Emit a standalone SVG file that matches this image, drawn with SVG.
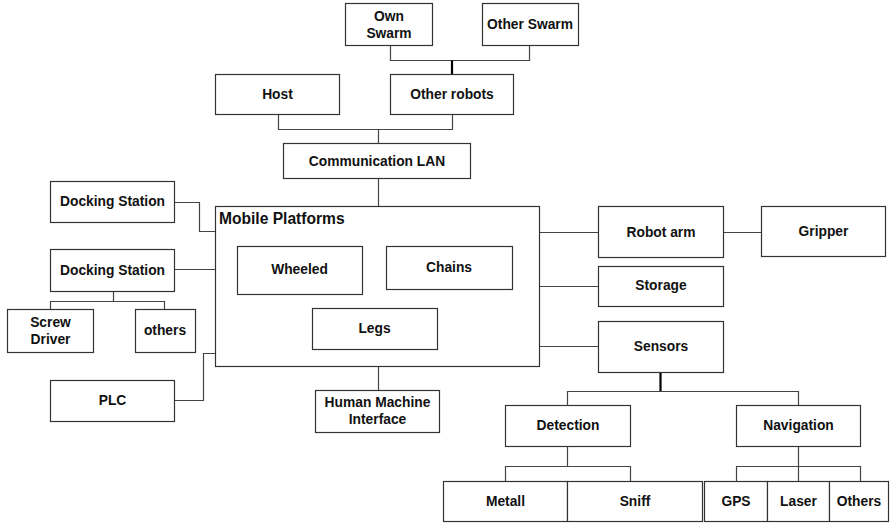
<svg xmlns="http://www.w3.org/2000/svg" width="891" height="523" viewBox="0 0 891 523">
<style>
.b{fill:#fff;stroke:#333;stroke-width:1.2}
.t{font-family:"Liberation Sans",Arial,sans-serif;font-weight:bold;font-size:13.8px;fill:#111;text-anchor:middle;dominant-baseline:central}
.c{fill:none;stroke:#444;stroke-width:1.2}
.k{fill:none;stroke:#000;stroke-width:2.2}
</style>
<rect width="891" height="523" fill="#fff"/>
<g id="connectors">
<path class="c" d="M390.5 45V60.5H529.5V45"/>
<path class="k" d="M452 60.5V74"/>
<path class="c" d="M278.5 114V129.5H452.5V114"/>
<path class="c" d="M378.5 129.5V143"/>
<path class="c" d="M378.5 178V206"/>
<path class="c" d="M174 202.5H199.5V231.5H215"/>
<path class="c" d="M174 269.5H215"/>
<path class="c" d="M113.5 291V301.5"/>
<path class="c" d="M50.5 309V301.5H164.5V309"/>
<path class="c" d="M174 400.5H203.5V353.5H215"/>
<path class="c" d="M378.5 366V390"/>
<path class="c" d="M537 232.5H598"/>
<path class="c" d="M723 232.5H761"/>
<path class="c" d="M539 286.5H598"/>
<path class="c" d="M537 346.5H598"/>
<path class="k" d="M660.5 372V391.5"/>
<path class="c" d="M567.5 405V391.5H798.5V405"/>
<path class="c" d="M567.5 446V466.5"/>
<path class="c" d="M505.5 481V466.5H630.5V481"/>
<path class="c" d="M798.5 446V481"/>
<path class="c" d="M736.5 481V466.5H860.5V481"/>
</g>
<g id="own-swarm"><rect class="b" x="345.5" y="3.5" width="87" height="42"/><text class="t" x="389" y="16">Own</text><text class="t" x="389" y="33">Swarm</text></g>
<g id="other-swarm"><rect class="b" x="482.5" y="3.5" width="96" height="42"/><text class="t" x="530" y="24.5">Other Swarm</text></g>
<g id="host"><rect class="b" x="215.5" y="74.5" width="124" height="40"/><text class="t" x="277.5" y="94">Host</text></g>
<g id="other-robots"><rect class="b" x="390.5" y="74.5" width="123" height="40"/><text class="t" x="452" y="94">Other robots</text></g>
<g id="communication-lan"><rect class="b" x="283.5" y="143.5" width="187" height="35"/><text class="t" x="377" y="161">Communication LAN</text></g>
<g id="mobile-platforms"><rect class="b" x="215.5" y="206.5" width="324" height="160"/><text class="t" x="219" y="218" style="text-anchor:start;font-size:15.6px">Mobile Platforms</text></g>
<g id="wheeled"><rect class="b" x="237.5" y="246.5" width="125" height="48"/><text class="t" x="299.5" y="269">Wheeled</text></g>
<g id="chains"><rect class="b" x="386.5" y="246.5" width="126" height="43"/><text class="t" x="449" y="267">Chains</text></g>
<g id="legs"><rect class="b" x="312.5" y="308.5" width="125" height="41"/><text class="t" x="374.5" y="328.5">Legs</text></g>
<g id="hmi"><rect class="b" x="315.5" y="390.5" width="124" height="42"/><text class="t" x="377.5" y="402.5">Human Machine</text><text class="t" x="377.5" y="419.5">Interface</text></g>
<g id="docking-station-1"><rect class="b" x="50.5" y="181.5" width="124" height="41"/><text class="t" x="112.5" y="201.5">Docking Station</text></g>
<g id="docking-station-2"><rect class="b" x="50.5" y="249.5" width="124" height="42"/><text class="t" x="112.5" y="270">Docking Station</text></g>
<g id="screw-driver"><rect class="b" x="7.5" y="309.5" width="86" height="43"/><text class="t" x="50.5" y="322.5">Screw</text><text class="t" x="50.5" y="339.5">Driver</text></g>
<g id="others-tools"><rect class="b" x="135.5" y="309.5" width="60" height="43"/><text class="t" x="165" y="330.5">others</text></g>
<g id="plc"><rect class="b" x="50.5" y="380.5" width="124" height="41"/><text class="t" x="112.5" y="400.5">PLC</text></g>
<g id="robot-arm"><rect class="b" x="598.5" y="206.5" width="125" height="51"/><text class="t" x="661" y="232">Robot arm</text></g>
<g id="gripper"><rect class="b" x="761.5" y="206.5" width="124" height="50"/><text class="t" x="823.5" y="231">Gripper</text></g>
<g id="storage"><rect class="b" x="598.5" y="266.5" width="125" height="40"/><text class="t" x="661" y="285.5">Storage</text></g>
<g id="sensors"><rect class="b" x="598.5" y="321.5" width="125" height="51"/><text class="t" x="661" y="346">Sensors</text></g>
<g id="detection"><rect class="b" x="505.5" y="405.5" width="125" height="41"/><text class="t" x="568" y="425.5">Detection</text></g>
<g id="navigation"><rect class="b" x="736.5" y="405.5" width="124" height="41"/><text class="t" x="798.5" y="425.5">Navigation</text></g>
<g id="metall"><rect class="b" x="443.5" y="481.5" width="124" height="40"/><text class="t" x="505.5" y="501">Metall</text></g>
<g id="sniff"><rect class="b" x="567.5" y="481.5" width="135" height="40"/><text class="t" x="635" y="501">Sniff</text></g>
<g id="gps"><rect class="b" x="704.5" y="481.5" width="63" height="40"/><text class="t" x="736" y="501">GPS</text></g>
<g id="laser"><rect class="b" x="767.5" y="481.5" width="62" height="40"/><text class="t" x="798.5" y="501">Laser</text></g>
<g id="others-nav"><rect class="b" x="829.5" y="481.5" width="59" height="40"/><text class="t" x="859" y="501">Others</text></g>
</svg>
